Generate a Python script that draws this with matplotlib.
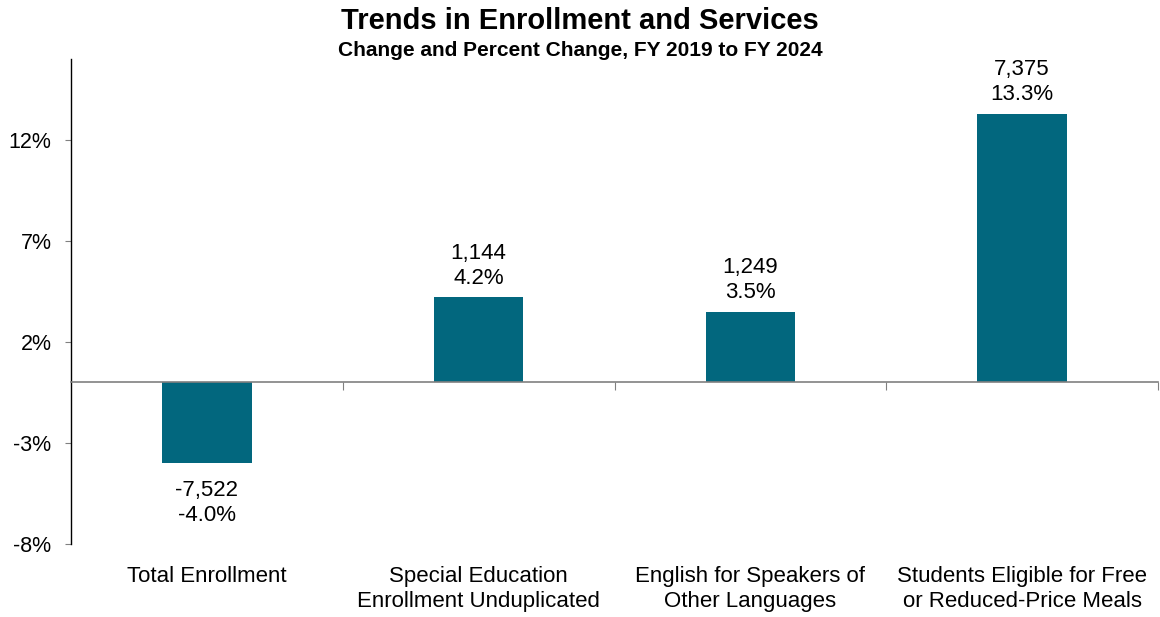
import numpy as np
import matplotlib.pyplot as plt
import matplotlib.transforms as mtransforms

plt.rcParams['font.family'] = ['Liberation Sans', 'DejaVu Sans']

categories = ['Total Enrollment',
              'Special Education\nEnrollment Unduplicated',
              'English for Speakers of\nOther Languages',
              'Students Eligible for Free\nor Reduced-Price Meals']
pct_change = [-4.0, 4.2, 3.5, 13.3]
count_change = [-7522, 1144, 1249, 7375]
yticks = [-8, -3, 2, 7, 12]

bar_color = '#02677E'

fig = plt.figure(figsize=(11.6, 6.17), dpi=100)
ax = fig.add_axes([0.0612, 0.1183, 0.9371, 0.7861])

x = np.arange(len(categories))
ax.bar(x, pct_change, width=0.33, color=bar_color, zorder=2)

ax.set_xlim(-0.5, len(categories) - 0.5)
ax.set_ylim(-8, 16)
ax.set_yticks(yticks)
ax.set_yticklabels([f'{v}%' for v in yticks], fontsize=15.5)
ax.tick_params(axis='y', length=4, color='#808080', pad=10)

for s in ['top', 'right']:
    ax.spines[s].set_visible(False)
ax.spines['left'].set_color('black')
ax.spines['left'].set_linewidth(1.0)
ax.spines['bottom'].set_position(('data', 0))
ax.spines['bottom'].set_color('#808080')
ax.spines['bottom'].set_linewidth(1.2)
ax.set_xticks(np.arange(0.5, len(categories), 1.0))
ax.set_xticklabels([])
ax.tick_params(axis='x', direction='out', length=6, color='#808080')

# category labels below plot
trans = mtransforms.blended_transform_factory(ax.transData, ax.transAxes)
for xi, lab in zip(x, categories):
    ax.text(xi, -0.045, lab, transform=trans, ha='center', va='top',
            fontsize=16, linespacing=1.28)

# value labels
for xi, p, c in zip(x, pct_change, count_change):
    txt = f'{c:,}\n{p:.1f}%'
    if p >= 0:
        ax.annotate(txt, (xi, p), xytext=(0, 6), textcoords='offset points',
                    ha='center', va='bottom', fontsize=16, linespacing=1.25)
    else:
        ax.annotate(txt, (xi, p), xytext=(0, -12), textcoords='offset points',
                    ha='center', va='top', fontsize=16, linespacing=1.25)

fig.text(0.5, 0.966, 'Trends in Enrollment and Services', ha='center', va='center',
         fontsize=21, fontweight='bold')
fig.text(0.5, 0.918, 'Change and Percent Change, FY 2019 to FY 2024', ha='center',
         va='center', fontsize=15, fontweight='bold')

fig.savefig('out.png', dpi=100)
